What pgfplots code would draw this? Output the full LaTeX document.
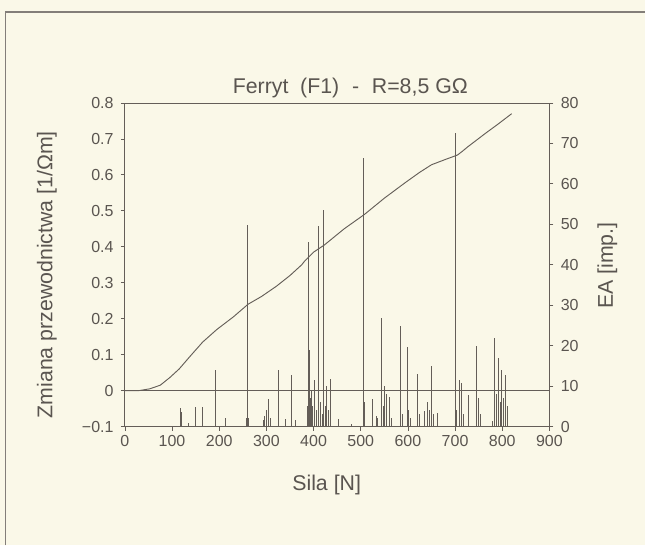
\documentclass[border=0pt]{standalone}
\usepackage{fontspec}
\setmainfont{Liberation Sans}
\usepackage{pgfplots}
\pgfplotsset{compat=1.18}
\definecolor{bg}{RGB}{250,248,232}
\definecolor{ink}{RGB}{100,94,88}
\definecolor{txt}{RGB}{90,85,80}
\begin{document}
\begin{tikzpicture}[x=1pt,y=1pt]
\fill[bg] (0,0) rectangle (484.5,409.5);
\draw[ink!80, line width=1pt] (4.2,0) -- (4.2,400.5) -- (484.5,400.5);
\begin{axis}[
  at={(93.75pt,89.25pt)}, anchor=south west,
  scale only axis, width=318.75pt, height=243pt,
  xmin=0, xmax=900, ymin=-0.1, ymax=0.8,
  xtick={0,100,...,900},
  xticklabels={0,100,200,300,400,500,600,700,800,900},
  ytick={-0.1,0,0.1,0.2,0.3,0.4,0.5,0.6,0.7,0.8},
  yticklabels={−0.1,0,0.1,0.2,0.3,0.4,0.5,0.6,0.7,0.8},
  xtick pos=lower, ytick pos=left,
  tick align=outside, major tick length=3pt,
  tick style={ink, line width=0.5pt},
  axis line style={ink, line width=0.6pt},
  ticklabel style={font=\fontsize{12}{14}\selectfont, text=txt},
  yticklabel style={xshift=-2pt},
  /pgf/number format/assume math mode=true,
  clip=false,
]
\addplot[ink, line width=0.5pt] coordinates {(0,0) (900,0)};
\addplot[ink, line width=0.7pt] coordinates {
(0,0) (30,0) (53,0.005) (75,0.015) (95,0.036) (115,0.06) (138,0.095)
(165,0.135) (195,0.17) (230,0.205) (261,0.24) (290,0.262) (321,0.29)
(350,0.32) (375,0.35) (381,0.36) (400,0.385) (423,0.405) (465,0.45)
(508,0.49) (550,0.535) (593,0.577) (625,0.607) (650,0.628) (680,0.643)
(705,0.655) (715,0.665) (727,0.678) (765,0.716) (790,0.74) (820,0.77)
};
\end{axis}
\begin{axis}[
  at={(93.75pt,89.25pt)}, anchor=south west,
  scale only axis, width=318.75pt, height=243pt,
  xmin=0, xmax=900, ymin=0, ymax=80,
  axis x line=none, axis y line*=right,
  ytick={0,10,...,80},
  yticklabels={0,10,20,30,40,50,60,70,80},
  tick align=outside, major tick length=3pt,
  tick style={ink, line width=0.5pt},
  axis line style={ink, line width=0.6pt},
  ticklabel style={font=\fontsize{12}{14}\selectfont, text=txt},
  yticklabel style={xshift=2pt},
  /pgf/number format/assume math mode=true,
]
\addplot[ycomb, ink, line width=0.55pt, mark=none] table {
x y
118 4.6
120 3.5
134 0.9
149 4.8
165 4.8
192 14.1
212 2.1
258 2.0
260 49.9
262 2.0
293 1.5
296 2.5
300 4.0
305 6.9
308 2.0
325 13.9
341 1.9
353 12.8
361 1.7
386 5
388 9
390 45.5
392 19
394 7
396 8.7
398 5
401 11.6
405 4
410 49.6
414 6
418 3
421 53.6
424 5
427 10
432 4
436 11.8
452 1.9
480 0.7
505 66.5
507 6
524 6.8
533 2.7
536 2.1
543 26.8
547 5
551 10
555 8
560 7.4
565 2
583 24.8
588 3
599 19.7
602 4
606 2.1
620 13
625 3
634 3.8
641 6
645 4
650 14.9
655 3
662 3.4
700 72.5
703 4
710 11.6
714 10.8
718 3
728 7.7
746 19.8
750 7
753 3
780 1.3
784 21.9
788 8
791 17
795 6
798 13.9
802 7
806 12.8
810 5
};
\end{axis}
\node[text=txt, font=\fontsize{16}{19}\selectfont] at (263,343.5) {Ferryt\hspace{0.55em}(F1)\hspace{0.6em}-\hspace{0.6em}R=8,5 GΩ};
\node[text=txt, font=\fontsize{16}{19}\selectfont] at (245.25,45.75) {Sila [N]};
\node[text=txt, font=\fontsize{16}{19}\selectfont, rotate=90] at (35.25,203.25) {Zmiana przewodnictwa [1/Ωm]};
\node[text=txt, font=\fontsize{16}{19}\selectfont, rotate=90] at (456,210) {EA [imp.]};
\end{tikzpicture}
\end{document}
